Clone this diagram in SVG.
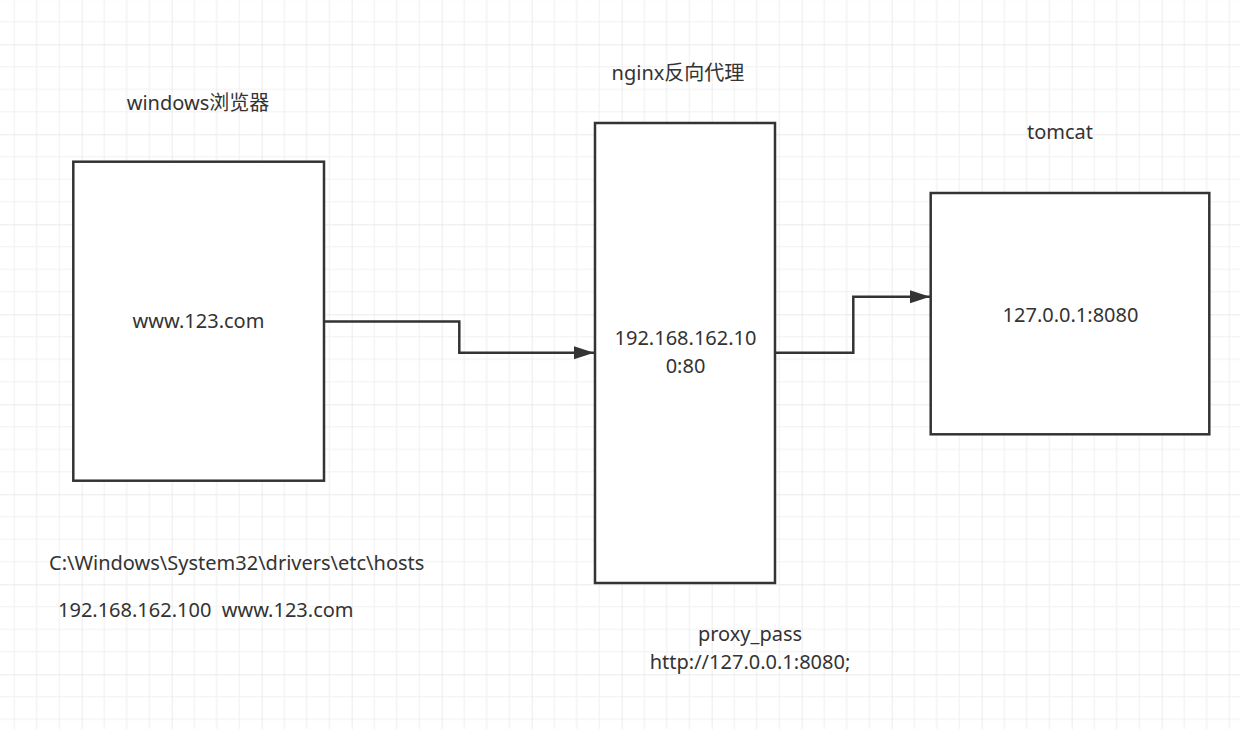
<svg xmlns="http://www.w3.org/2000/svg" width="1240" height="729" viewBox="0 0 1240 729">
  <defs>
    <pattern id="grid" patternUnits="userSpaceOnUse" x="-8.3" y="-45.7" width="90" height="90">
      <path d="M22.5 0V90M45 0V90M67.5 0V90M0 22.5H90M0 45H90M0 67.5H90" stroke="#f1f1f1" stroke-width="1.2" fill="none"/>
      <path d="M0 0V90M0 0H90" stroke="#e4e4e4" stroke-width="1.4" fill="none"/>
    </pattern>
    <marker id="arrow" markerUnits="userSpaceOnUse" markerWidth="22" markerHeight="14" refX="20" refY="7" orient="auto">
      <path d="M0 0.5L20 7L0 13.5Z" fill="#333333"/>
    </marker>
    <style>
      .box{fill:#ffffff;stroke:#333333;stroke-width:2.5}
      .t{font-family:"Noto Sans","Noto Sans CJK SC",sans-serif;font-size:20px;fill:#333333;text-anchor:middle}
      .tl{text-anchor:start}
      .edge{fill:none;stroke:#333333;stroke-width:2.5}
    </style>
  </defs>
  <rect width="1240" height="729" fill="#ffffff"/>
  <rect width="1240" height="729" fill="url(#grid)"/>

  <g id="connectors">
    <path class="edge" d="M325 321.5H459.3V352.7H594" marker-end="url(#arrow)"/>
    <path class="edge" d="M776 352.7H853.3V296.7H930" marker-end="url(#arrow)"/>
  </g>

  <g id="browser">
    <rect class="box" x="73.3" y="161.7" width="250.7" height="319"/>
    <text class="t" x="198" y="110">windows浏览器</text>
    <text class="t" x="198.5" y="328">www.123.com</text>
  </g>

  <g id="nginx">
    <rect class="box" x="595" y="123" width="180" height="460"/>
    <text class="t" x="678" y="80">nginx反向代理</text>
    <text class="t" x="685.5" y="345">192.168.162.10</text>
    <text class="t" x="685.5" y="372.5">0:80</text>
  </g>

  <g id="tomcat">
    <rect class="box" x="930.7" y="193" width="278.6" height="241.3"/>
    <text class="t" x="1060" y="139">tomcat</text>
    <text class="t" x="1070.5" y="322">127.0.0.1:8080</text>
  </g>

  <g id="hosts-note">
    <text class="t tl" x="49" y="570">C:\Windows\System32\drivers\etc\hosts</text>
    <text class="t tl" x="58" y="617" xml:space="preserve">192.168.162.100  www.123.com</text>
  </g>

  <g id="proxy-note">
    <text class="t" x="750" y="641">proxy_pass</text>
    <text class="t" x="750" y="668.5">http://127.0.0.1:8080;</text>
  </g>
</svg>
